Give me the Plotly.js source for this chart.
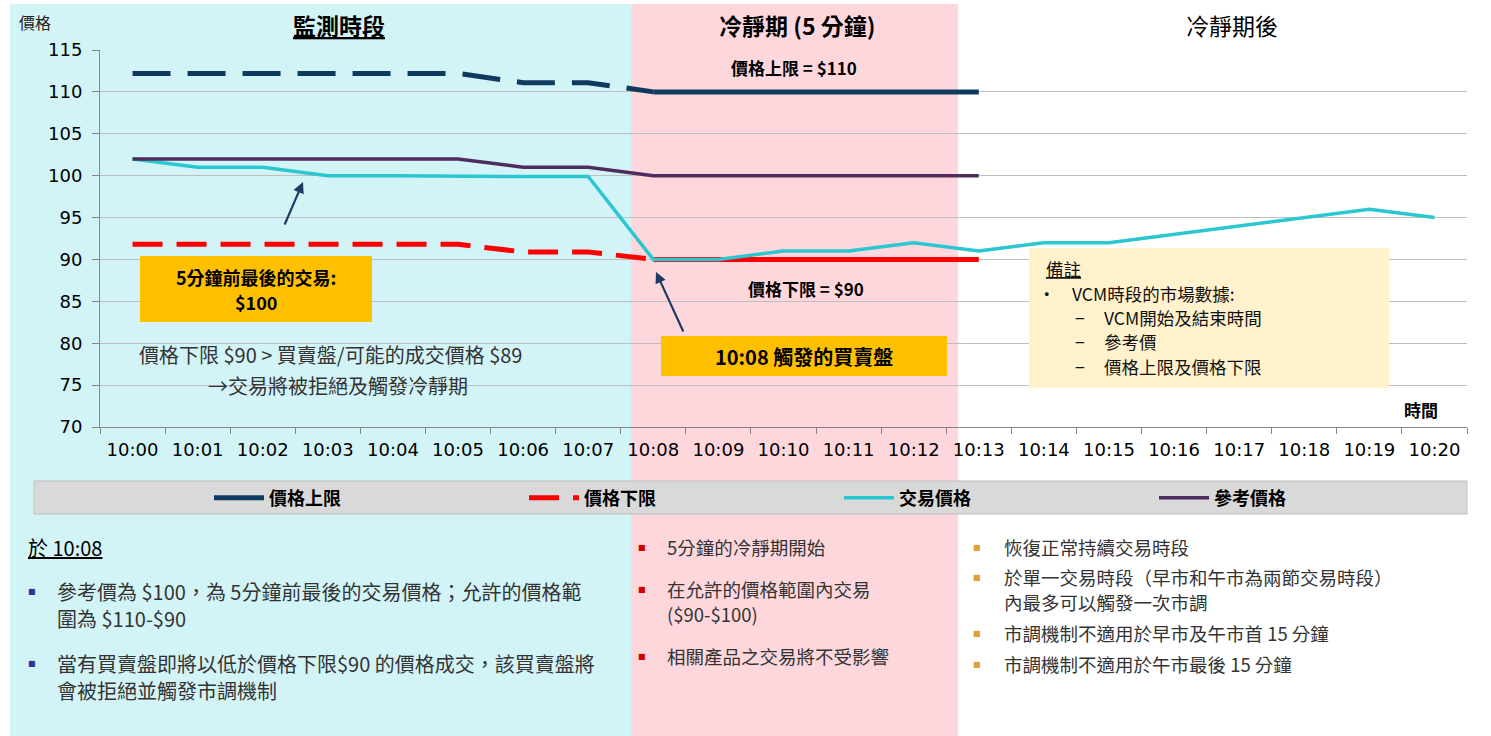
<!DOCTYPE html>
<html>
<head>
<meta charset="utf-8">
<script src="https://cdn.plot.ly/plotly-3.0.1.min.js"></script>
<style>html,body{margin:0;padding:0;background:#fff;}#chart{width:1491px;height:736px;}</style>
</head>
<body>
<div id="chart"></div>
<script>
// ---- data ----
const times = ['10:00','10:01','10:02','10:03','10:04','10:05','10:06','10:07','10:08','10:09','10:10',
               '10:11','10:12','10:13','10:14','10:15','10:16','10:17','10:18','10:19','10:20'];
const upperMonitor = [112.2,112.2,112.2,112.2,112.2,112.2,111.1,111.1,110,null,null,null,null,null,null,null,null,null,null,null,null];
const upperCooling = [null,null,null,null,null,null,null,null,110,110,110,110,110,110,null,null,null,null,null,null,null];
const lowerMonitor = [91.8,91.8,91.8,91.8,91.8,91.8,90.9,90.9,90,null,null,null,null,null,null,null,null,null,null,null,null];
const lowerCooling = [null,null,null,null,null,null,null,null,90,90,90,90,90,90,null,null,null,null,null,null,null];
const tradePrice   = [102,101,101,100,100,99.9,99.9,99.9,90,90,91,91,92,91,92,92,93,94,95,96,95];
const refPrice     = [102,102,102,102,102,102,101,101,100,100,100,100,100,100,null,null,null,null,null,null,null];
const seriesNames  = ['價格上限','價格下限','交易價格','參考價格'];

// ---- layout helpers ----
const L = 100, R = 1467, T = 50, B = 427;
const px = x => (x - L) / (R - L);
const py = y => (B - y) / (B - T);
const CJK = '"Noto Sans CJK TC", "Noto Sans", sans-serif';
const NUM = '"DejaVu Sans", sans-serif';

const navy = '#0f3a60', red = '#ff0000', cyan = '#2ac7d0', purple = '#4e2d5e';

const traces = [
  {x: times, y: upperCooling, name: seriesNames[0], mode: 'lines', line: {color: navy, width: 5}, showlegend: true, legendrank: 1},
  {x: times, y: upperMonitor, name: seriesNames[0], mode: 'lines', line: {color: navy, width: 5, dash: '38px,17px'}, showlegend: false},
  {x: times, y: lowerMonitor, name: seriesNames[1], mode: 'lines', line: {color: red, width: 5, dash: '30px,14px'}, showlegend: true, legendrank: 2},
  {x: times, y: lowerCooling, name: seriesNames[1], mode: 'lines', line: {color: red, width: 5}, showlegend: false},
  {x: times, y: tradePrice, name: seriesNames[2], mode: 'lines', line: {color: cyan, width: 3.5}, showlegend: true, legendrank: 3},
  {x: times, y: refPrice, name: seriesNames[3], mode: 'lines', line: {color: purple, width: 3.5}, showlegend: true, legendrank: 4}
];

const ann = [];
function txt(x, y, text, o) {
  o = o || {};
  const f = Object.assign({family: CJK, size: 19, color: '#333333'}, o.font || {});
  const a = Object.assign({xref: 'paper', yref: 'paper', x: px(x), y: py(y), text: text, showarrow: false,
    xanchor: 'left', yanchor: 'middle', align: 'left', borderpad: 0}, o);
  a.font = f;
  ann.push(a);
}
function bullet(x, y, color) {
  txt(x, y, '■', {xanchor: 'center', font: {family: NUM, size: 8, color: color}});
}

// section titles
txt(339, 25, '<u>監測時段</u>', {xanchor: 'center', font: {size: 23, color: '#000', weight: 'bold'}});
txt(797, 25, '冷靜期 (5 分鐘)', {xanchor: 'center', font: {size: 23, color: '#000', weight: 'bold'}});
txt(1232, 25, '冷靜期後', {xanchor: 'center', font: {size: 23, color: '#000'}});
// axis titles
txt(35, 22, '價格', {xanchor: 'center', font: {size: 16, color: '#222'}});
txt(1421, 409, '時間', {xanchor: 'center', font: {size: 17, color: '#000', weight: 'bold'}});
// limit labels
txt(794, 67, '價格上限 = $110', {xanchor: 'center', font: {size: 17, color: '#000', weight: 'bold'}});
txt(806, 288, '價格下限 = $90', {xanchor: 'center', font: {size: 17, color: '#000', weight: 'bold'}});
// orange box texts (boxes are shapes)
txt(256, 277, '5分鐘前最後的交易:', {xanchor: 'center', font: {size: 18, color: '#000', weight: 'bold'}});
txt(256, 302, '$100', {xanchor: 'center', font: {size: 18, color: '#000', weight: 'bold'}});
txt(804, 356, '10:08 觸發的買賣盤', {xanchor: 'center', font: {size: 20, color: '#000', weight: 'bold'}});
// arrows
ann.push({xref: 'paper', yref: 'paper', x: px(303), y: py(182), ax: -19, ay: 44, text: '', showarrow: true,
  arrowhead: 2, arrowsize: 1, arrowwidth: 2.2, arrowcolor: '#1f3b63'});
ann.push({xref: 'paper', yref: 'paper', x: px(656), y: py(272), ax: 28, ay: 61, text: '', showarrow: true,
  arrowhead: 2, arrowsize: 1, arrowwidth: 2.2, arrowcolor: '#1f3b63'});
// explanation text
txt(138, 354, '價格下限 $90 > 買賣盤/可能的成交價格 $89', {font: {size: 20, color: '#333'}});
txt(207, 385, '→交易將被拒絕及觸發冷靜期', {font: {size: 20, color: '#333'}});
// note box text
txt(1045, 268, '<u>備註</u>', {font: {size: 17.5, color: '#111'}});
txt(1047, 293, '•', {xanchor: 'center', font: {size: 17.5, color: '#111'}});
txt(1071, 293, 'VCM時段的市場數據:', {font: {size: 17.5, color: '#111'}});
txt(1080, 317, '−', {xanchor: 'center', font: {size: 17.5, color: '#111'}});
txt(1103, 317, 'VCM開始及結束時間', {font: {size: 17.5, color: '#111'}});
txt(1080, 341, '−', {xanchor: 'center', font: {size: 17.5, color: '#111'}});
txt(1103, 341, '參考價', {font: {size: 17.5, color: '#111'}});
txt(1080, 366, '−', {xanchor: 'center', font: {size: 17.5, color: '#111'}});
txt(1103, 366, '價格上限及價格下限', {font: {size: 17.5, color: '#111'}});

// bottom left
txt(27, 547, '<u>於 10:08</u>', {font: {size: 20, color: '#000'}});
bullet(32, 591, '#33339c');
txt(56, 591, '參考價為 $100，為 5分鐘前最後的交易價格；允許的價格範', {font: {size: 20}});
txt(56, 618, '圍為 $110-$90', {font: {size: 20}});
bullet(32, 663, '#33339c');
txt(56, 663, '當有買賣盤即將以低於價格下限$90 的價格成交，該買賣盤將', {font: {size: 20}});
txt(56, 690, '會被拒絕並觸發市調機制', {font: {size: 20}});
// bottom middle
const BS = 18.5;
bullet(642, 547, '#d00000');
txt(666, 547, '5分鐘的冷靜期開始', {font: {size: BS}});
bullet(642, 589, '#d00000');
txt(666, 589, '在允許的價格範圍內交易', {font: {size: BS}});
txt(666, 614, '($90-$100)', {font: {size: BS}});
bullet(642, 656, '#d00000');
txt(666, 656, '相關產品之交易將不受影響', {font: {size: BS}});
// bottom right
bullet(977, 547, '#e0a030');
txt(1003, 547, '恢復正常持續交易時段', {font: {size: BS}});
bullet(977, 577, '#e0a030');
txt(1003, 577, '於單一交易時段（早市和午市為兩節交易時段）', {font: {size: BS}});
txt(1003, 602, '內最多可以觸發一次市調', {font: {size: BS}});
bullet(977, 633, '#e0a030');
txt(1003, 633, '市調機制不適用於早市及午市首 15 分鐘', {font: {size: BS}});
bullet(977, 664, '#e0a030');
txt(1003, 664, '市調機制不適用於午市最後 15 分鐘', {font: {size: BS}});

const shapes = [
  {type: 'rect', xref: 'paper', yref: 'paper', x0: px(10), x1: px(631), y0: py(736), y1: py(4), fillcolor: '#d3f4f7', line: {width: 0}, layer: 'below'},
  {type: 'rect', xref: 'paper', yref: 'paper', x0: px(631), x1: px(958), y0: py(736), y1: py(4), fillcolor: '#fdd7dc', line: {width: 0}, layer: 'below'},
  {type: 'rect', xref: 'paper', yref: 'paper', x0: px(34), x1: px(1467), y0: py(514), y1: py(481), fillcolor: '#d9d9d9', line: {width: 1, color: '#bfbfbf'}, layer: 'below'},
  {type: 'rect', xref: 'paper', yref: 'paper', x0: px(1029), x1: px(1389), y0: py(388), y1: py(248), fillcolor: '#fff2cc', line: {width: 0}, layer: 'above'},
  {type: 'rect', xref: 'paper', yref: 'paper', x0: px(140), x1: px(372), y0: py(322), y1: py(256), fillcolor: '#ffc000', line: {width: 0}, layer: 'above'},
  {type: 'rect', xref: 'paper', yref: 'paper', x0: px(661), x1: px(947), y0: py(376), y1: py(336), fillcolor: '#ffc000', line: {width: 0}, layer: 'above'}
];

const layout = {
  width: 1491, height: 736, autosize: false,
  margin: {l: L, r: 1491 - R, t: T, b: 736 - B, pad: 0},
  paper_bgcolor: '#ffffff', plot_bgcolor: 'rgba(0,0,0,0)',
  hovermode: false,
  font: {family: CJK},
  xaxis: {
    type: 'category', range: [-0.5, 20.5], showgrid: false, zeroline: false,
    showline: true, linecolor: '#868686', linewidth: 1,
    ticks: 'outside', tickson: 'boundaries', ticklen: 6, tickcolor: '#868686',
    tickfont: {family: NUM, size: 18, color: '#000'}, ticklabelstandoff: 6, fixedrange: true
  },
  yaxis: {
    range: [70, 115], tick0: 70, dtick: 5, showgrid: true, gridcolor: '#bfbfbf', gridwidth: 1, zeroline: false,
    showline: true, linecolor: '#868686', linewidth: 1,
    ticks: 'outside', ticklen: 7, tickcolor: '#868686',
    tickfont: {family: NUM, size: 18, color: '#000'}, ticklabelstandoff: 6, fixedrange: true
  },
  showlegend: true,
  legend: {
    orientation: 'h', x: px(209), xanchor: 'left', y: py(498), yanchor: 'middle',
    bgcolor: 'rgba(0,0,0,0)', borderwidth: 0, traceorder: 'normal',
    itemwidth: 50, entrywidth: 250, entrywidthmode: 'pixels',
    font: {family: CJK, size: 18, color: '#000', weight: 'bold'}
  },
  shapes: shapes,
  annotations: ann
};

Plotly.newPlot('chart', traces, layout, {displayModeBar: false, staticPlot: true});
</script>
</body>
</html>
